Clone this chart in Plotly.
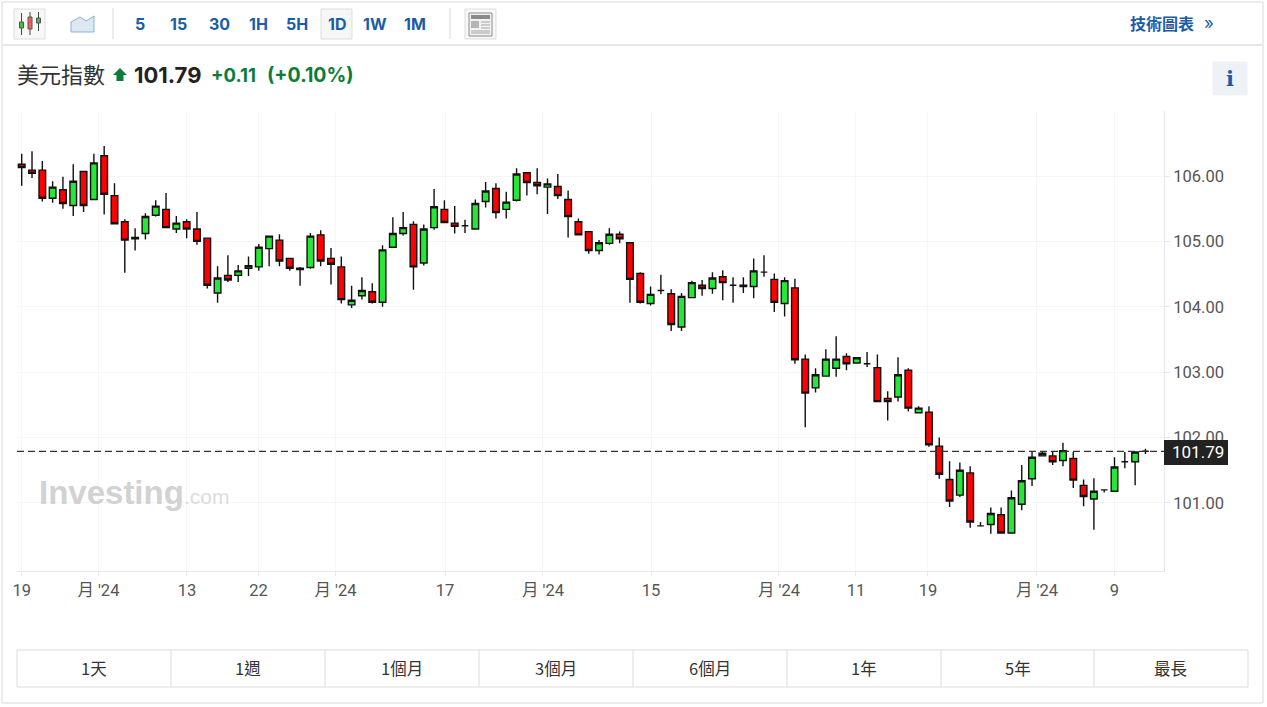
import plotly.graph_objects as go

# daily candles
opens = [106.18,106.09,106.09,105.66,105.79,105.55,106.07,105.64,106.31,105.70,
         105.30,105.06,105.12,105.40,105.49,105.19,105.30,105.19,105.05,104.21,
         104.48,104.48,104.59,104.61,104.89,105.02,104.74,104.59,104.60,105.10,
         104.74,104.61,104.03,104.17,104.23,104.07,104.91,105.12,105.26,104.67,
         105.21,105.49,105.28,105.24,105.19,105.61,105.81,105.49,105.63,106.05,
         105.90,105.83,105.84,105.64,105.30,105.15,104.86,104.97,105.11,104.98,
         104.51,104.05,104.25,104.20,103.69,104.14,104.33,104.28,104.46,104.33,
         104.33,104.31,104.53,104.42,104.05,104.29,103.20,102.76,102.94,103.06,
         103.24,103.14,103.13,103.07,102.60,102.62,103.03,102.38,102.39,101.87,
         101.36,101.12,101.46,100.65,100.67,100.82,100.54,100.98,101.37,101.72,
         101.72,101.65,101.68,101.27,101.06,101.20,101.18,101.63,101.63,101.79]
highs = [106.34,106.38,106.23,105.92,105.99,106.18,106.07,106.34,106.46,105.89,
         105.34,105.20,105.43,105.63,105.74,105.39,105.34,105.45,105.05,104.62,
         104.79,104.64,104.77,104.96,105.09,105.11,104.74,104.61,105.13,105.17,
         104.90,104.77,104.32,104.45,104.36,104.94,105.37,105.45,105.31,105.26,
         105.80,105.63,105.54,105.33,105.64,105.91,105.89,105.76,106.12,106.05,
         106.12,105.96,106.03,105.78,105.35,105.15,105.02,105.20,105.15,104.98,
         104.53,104.31,104.49,104.27,104.21,104.40,104.41,104.53,104.56,104.45,
         104.45,104.74,104.79,104.51,104.45,104.43,103.27,103.06,103.35,103.55,
         103.29,103.22,103.31,103.27,102.71,103.23,103.06,102.48,102.48,102.00,
         101.64,101.62,101.56,100.71,100.93,100.93,101.19,101.58,101.79,101.78,
         101.78,101.92,101.78,101.36,101.38,101.21,101.70,101.78,101.78,101.83]
lows = [105.85,105.97,105.61,105.59,105.50,105.39,105.45,105.63,105.41,105.27,
        104.52,104.86,105.03,105.38,105.20,105.13,105.05,104.95,104.28,104.06,
        104.38,104.38,104.47,104.55,104.62,104.62,104.55,104.32,104.58,104.62,
        104.34,104.05,103.98,104.11,104.05,104.00,104.90,105.09,104.26,104.63,
        105.18,105.29,105.12,105.13,105.19,105.52,105.35,105.35,105.61,105.70,
        105.72,105.42,105.65,105.06,105.10,104.81,104.80,104.95,104.97,104.06,
        104.05,104.02,104.19,103.63,103.63,104.13,104.17,104.20,104.10,104.06,
        104.21,104.13,104.46,103.92,103.85,103.13,102.16,102.69,102.94,102.93,
        103.03,103.14,103.08,102.55,102.26,102.55,102.40,102.38,101.86,101.37,
        100.94,101.09,100.62,100.64,100.53,100.54,100.54,100.89,101.26,101.71,
        101.58,101.56,101.23,100.95,100.59,101.16,101.17,101.53,101.27,101.75]
closes = [106.13,106.04,105.66,105.83,105.58,105.92,105.55,106.20,105.72,105.27,
          105.02,105.04,105.38,105.54,105.21,105.28,105.19,105.00,104.33,104.44,
          104.41,104.55,104.63,104.91,105.08,104.70,104.59,104.57,105.08,104.70,
          104.65,104.11,104.10,104.25,104.07,104.87,105.12,105.21,104.61,105.19,
          105.53,105.29,105.23,105.24,105.58,105.77,105.44,105.60,106.03,105.90,
          105.85,105.88,105.70,105.38,105.10,104.86,104.98,105.11,105.04,104.42,
          104.07,104.19,104.25,103.73,104.16,104.37,104.28,104.44,104.37,104.33,
          104.31,104.55,104.53,104.07,104.40,103.19,102.68,102.96,103.20,103.20,
          103.13,103.22,103.13,102.55,102.55,102.96,102.45,102.45,101.89,101.44,
          101.03,101.50,100.71,100.65,100.84,100.54,101.08,101.34,101.70,101.76,
          101.63,101.80,101.35,101.10,101.18,101.20,101.55,101.63,101.78,101.79]
days = list(range(len(opens)))

x_tick_pos = [0,7.44,16.03,22.96,30.44,41.06,50.56,61.04,73.45,80.92,87.9,98.48,106]
x_tick_labels = ["19","月 '24","13","22","月 '24","17","月 '24","15","月 '24","11","19","月 '24","9"]
y_tick_vals = [101,102,103,104,105,106]
last_price = 101.79

timeframes = ["5","15","30","1H","5H","1D","1W","1M"]
timeframe_x = [140,179,219,258,297,337,375,415]
range_labels = ["1天","1週","1個月","3個月","6個月","1年","5年","最長"]
range_edges = [17,171,325,479,633,787,941,1094,1248]

W, H = 1267, 707
CJK = "Noto Sans CJK TC"
BLUE = "#1a5ca6"
GREEN = "#0b7d36"

def fx(x):
    return x / W

def fy(y):
    return 1 - y / H

shapes = []
annots = []

def rect(x0, y0, x1, y1, fill="rgba(0,0,0,0)", line="#dcdcdc", lw=1):
    shapes.append(dict(type="rect", xref="paper", yref="paper", x0=fx(x0), x1=fx(x1), y0=fy(y0), y1=fy(y1),
                       fillcolor=fill, line=dict(color=line, width=lw), layer="below"))

def seg(x0, y0, x1, y1, color="#d8d8d8", lw=1):
    shapes.append(dict(type="line", xref="paper", yref="paper", x0=fx(x0), x1=fx(x1), y0=fy(y0), y1=fy(y1),
                       line=dict(color=color, width=lw), layer="above"))

def poly(pts, fill, line="rgba(0,0,0,0)", lw=0):
    path = "M " + " L ".join(f"{fx(a):.5f},{fy(b):.5f}" for a, b in pts) + " Z"
    shapes.append(dict(type="path", xref="paper", yref="paper", path=path, fillcolor=fill,
                       line=dict(color=line, width=lw), layer="above"))

def text(x, y, s, size, color, family="Inter", anchor="center", bold=False):
    if bold:
        s = "<b>" + s + "</b>"
    annots.append(dict(xref="paper", yref="paper", x=fx(x), y=fy(y), text=s, showarrow=False,
                       xanchor=anchor, yanchor="middle", align="left", borderpad=0,
                       font=dict(size=size, color=color, family=family)))

# card and toolbar
rect(2, 2, 1263, 703, fill="white", line="#d9d9d9", lw=1)
seg(3, 45, 1262, 45, "#cfcfcf")
rect(14, 9, 45, 39, fill="#f7f7f7", line="#dddddd")
rect(321, 9, 352, 39, fill="#f6f6f6", line="#dddddd")
rect(465, 9, 496, 39, fill="#f7f7f7", line="#dddddd")
seg(113, 8, 113, 39)
seg(450, 8, 450, 39)

# candle icon
for cx, t, b, wt, wb, col in [(21.5,22,28,13,35,"#3cc23c"),(30,17,29,12,35,"#f06060"),(38.5,18,23,12,31,"#3cc23c")]:
    seg(cx, wt, cx, wb, "#444444", 1)
    shapes.append(dict(type="rect", xref="paper", yref="paper", x0=fx(cx-2), x1=fx(cx+2), y0=fy(t), y1=fy(b),
                       fillcolor=col, line=dict(color="#555555", width=1), layer="above"))

# line icon
poly([(71,22),(80,17),(86,21),(94,16),(94,32),(71,32)], "#dde6f3", "#8fb0d8", 1)

# news icon
rect(469, 13, 492, 36, fill="#f2f2f2", line="#8a8a8a", lw=1)
poly([(471,15),(490,15),(490,19),(471,19)], "#8a8a8a")
poly([(471,21),(479,21),(479,28),(471,28)], "#b5b5b5")
for yy in (22, 25, 28, 31, 33):
    seg(481 if yy < 29 else 471, yy, 490, yy, "#a5a5a5", 1)

for lab, xx in zip(timeframes, timeframe_x):
    text(xx, 24, lab, 16, BLUE, bold=True)
text(1129, 23, "<b>技術圖表</b>", 16, BLUE, family=CJK, anchor="left")
text(1209, 23, "»", 17, BLUE, family="Inter")

# quote header
text(16, 73.5, "美元指數", 22, "#333333", family=CJK, anchor="left")
poly([(120,68),(127,75),(123.5,75),(123.5,81),(116.5,81),(116.5,75),(113,75)], GREEN)
text(132.5, 75, "101.79", 22, "#222222", anchor="left", bold=True)
text(209.5, 75, "+0.11", 18.5, GREEN, anchor="left", bold=True)
text(265.5, 75, "(+0.10%)", 19.5, GREEN, anchor="left", bold=True)
rect(1213, 62, 1247, 95, fill="#eef1f5", line="#eef1f5")
text(1230, 79, "i", 21, BLUE, family="DejaVu Serif", bold=True)

# watermark
text(38, 492, "Investing", 33, "#d2d2d2", family="Liberation Sans", anchor="left", bold=True)
text(183, 497, ".com", 21, "#dcdcdc", family="Liberation Sans", anchor="left")

# price tag
poly([(1164,440),(1228,440),(1228,465),(1164,465)], "#222222")
text(1198, 452.5, "101.79", 17, "white", family="Roboto")

# range buttons
rect(17, 650, 1248, 687, fill="white", line="#dcdcdc")
for xx in range_edges[1:-1]:
    seg(xx, 650, xx, 687, "#dcdcdc")
for lab, a, b in zip(range_labels, range_edges[:-1], range_edges[1:]):
    text((a + b) / 2, 668, lab, 16.5, "#333333", family=CJK)

# last price line
shapes.append(dict(type="line", xref="paper", yref="y", x0=fx(17), x1=fx(1164), y0=last_price, y1=last_price,
                   line=dict(color="#333333", width=1.2, dash="7px,4px"), layer="above"))

fig = go.Figure(go.Candlestick(
    x=days, open=opens, high=highs, low=lows, close=closes,
    increasing=dict(fillcolor="#26e636", line=dict(color="#111111", width=1.4)),
    decreasing=dict(fillcolor="#ff0000", line=dict(color="#111111", width=1.4)),
    whiskerwidth=0, hoverinfo="skip", showlegend=False,
))
fig.update_layout(
    width=W, height=H, margin=dict(l=0, r=0, t=0, b=0, autoexpand=False), boxgap=0.08,
    paper_bgcolor="white", plot_bgcolor="white",
    shapes=shapes, annotations=annots, showlegend=False,
    xaxis=dict(domain=[fx(17), fx(1164)], range=[-0.456, 110.8], rangeslider=dict(visible=False),
               tickmode="array", tickvals=x_tick_pos, ticktext=x_tick_labels,
               showgrid=True, gridcolor="#f6f6f6", zeroline=False, showline=True, linecolor="#e6e8ee", linewidth=1,
               ticks="outside", ticklen=4, tickcolor="#e6e8ee",
               tickfont=dict(family=f"Roboto, {CJK}", size=16.5, color="#555555")),
    yaxis=dict(domain=[fy(571), fy(111)], range=[99.96, 106.994], side="right",
               tickmode="array", tickvals=y_tick_vals, tickformat=".2f",
               showgrid=True, gridcolor="#f6f6f6", zeroline=False, showline=True, linecolor="#e6e8ee", linewidth=1,
               ticks="outside", ticklen=5, tickcolor="#e6e8ee",
               tickfont=dict(family="Roboto", size=16.5, color="#555555")),
)
fig.write_html("out.html", post_script="document.body.style.margin='0';", config=dict(displayModeBar=False))
